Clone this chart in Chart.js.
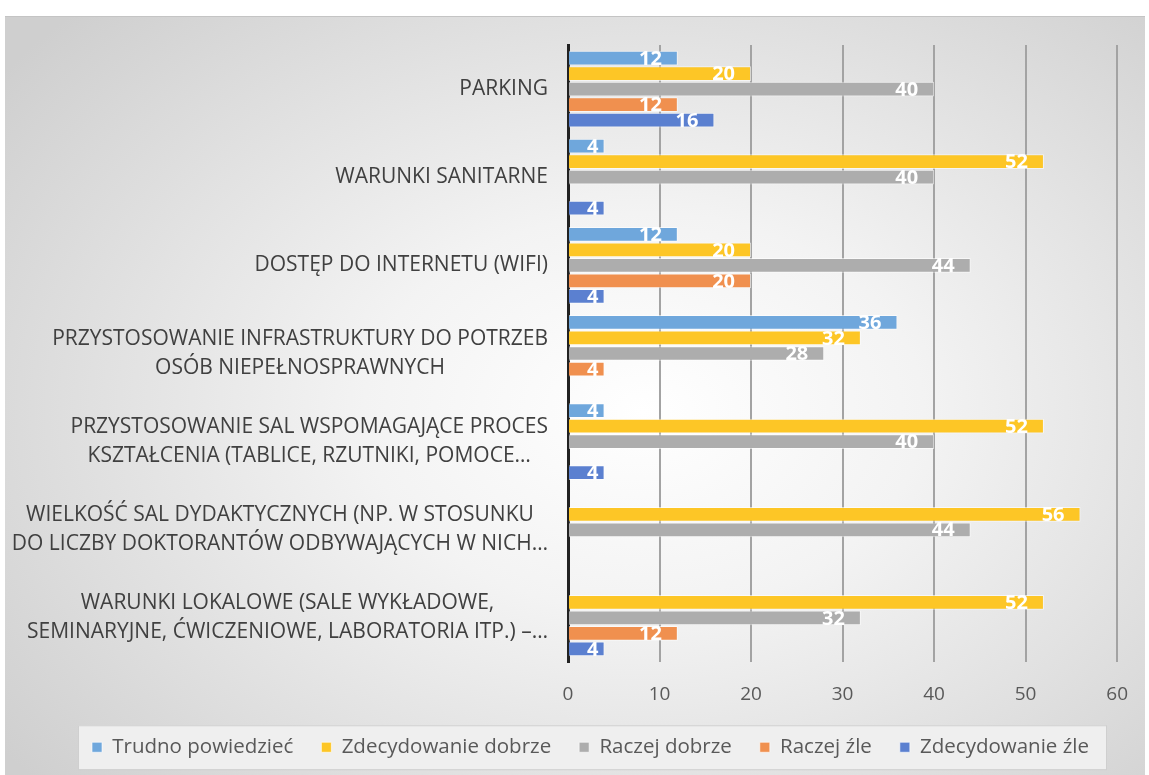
<!DOCTYPE html>
<html><head><meta charset="utf-8">
<script src="https://cdn.jsdelivr.net/npm/chart.js@4/dist/chart.umd.min.js"></script>
<style>
html,body{margin:0;padding:0;background:#fff;}
#wrap{position:relative;width:1149px;height:775px;overflow:hidden;}
#bg{position:absolute;left:5px;top:16px;width:1140px;height:759px;
 background:radial-gradient(ellipse 70% 75% at 56% 52%, #ffffff 0%, #f3f3f3 35%, #cfcfcf 100%);
 border-top:1px solid #c4c4c4;}
canvas{position:absolute;left:0;top:0;}
</style></head>
<body>
<div id="wrap"><div id="bg"></div><canvas id="c" width="1149" height="775"></canvas></div>
<script>
const categories = [
  ['PARKING'],
  ['WARUNKI SANITARNE'],
  ['DOSTĘP DO INTERNETU (WIFI)'],
  ['PRZYSTOSOWANIE INFRASTRUKTURY DO POTRZEB', 'OSÓB NIEPEŁNOSPRAWNYCH'],
  ['PRZYSTOSOWANIE SAL WSPOMAGAJĄCE PROCES', 'KSZTAŁCENIA (TABLICE, RZUTNIKI, POMOCE…'],
  ['WIELKOŚĆ SAL DYDAKTYCZNYCH (NP. W STOSUNKU', 'DO LICZBY DOKTORANTÓW ODBYWAJĄCYCH W NICH…'],
  ['WARUNKI LOKALOWE (SALE WYKŁADOWE,', 'SEMINARYJNE, ĆWICZENIOWE, LABORATORIA ITP.) –…']
];
const seriesNames = ['Trudno powiedzieć', 'Zdecydowanie dobrze', 'Raczej dobrze', 'Raczej źle', 'Zdecydowanie źle'];
const trudnoPowiedziec   = [12, 4, 12, 36, 4, null, null];
const zdecydowanieDobrze = [20, 52, 20, 32, 52, 56, 52];
const raczejDobrze       = [40, 40, 44, 28, 40, 44, 32];
const raczejZle          = [12, null, 20, 4, null, null, 12];
const zdecydowanieZle    = [16, 4, 4, null, 4, null, 4];
const xTickValues = [0, 10, 20, 30, 40, 50, 60];

const colors = ['#6fa7dc', '#fdc626', '#adadad', '#f0904f', '#5b80d0'];
const seriesData = [trudnoPowiedziec, zdecydowanieDobrze, raczejDobrze, raczejZle, zdecydowanieZle];

const FONT = '"Open Sans", "DejaVu Sans", sans-serif';

const customDraw = {
  id: 'customDraw',
  beforeLayout(chart) {
    const lg = chart.legend;
    if (lg && !lg._fixedH) {
      const f = lg.fit.bind(lg);
      lg.fit = function () { f(); this.height = 66; };
      lg._fixedH = true;
    }
  },
  afterLayout(chart) {
    const lg = chart.legend;
    if (lg) { lg.left += 28; lg.right += 28; }
  },
  beforeDraw(chart) {
    const ctx = chart.ctx;
    const lg = chart.legend;
    if (lg && lg.legendHitBoxes && lg.legendHitBoxes.length) {
      const hb = lg.legendHitBoxes;
      const l = Math.min(...hb.map(h => h.left)) - 14;
      const r = Math.max(...hb.map(h => h.left + h.width)) + 17;
      const cy = hb[0].top + hb[0].height / 2;
      ctx.save();
      ctx.fillStyle = '#efefef';
      ctx.strokeStyle = '#cfcfcf';
      ctx.lineWidth = 1;
      ctx.fillRect(l, cy - 22, r - l, 44);
      ctx.strokeRect(l + 0.5, cy - 22 + 0.5, r - l, 44);
      ctx.restore();
    }
  },
  afterDraw(chart) {
    const ctx = chart.ctx;
    const y = chart.scales.y;
    ctx.save();
    ctx.font = '21px ' + FONT;
    ctx.fillStyle = '#404040';
    ctx.textBaseline = 'middle';
    ctx.textAlign = 'center';
    const right = chart.chartArea.left - 20;
    const lh = 29;
    categories.forEach((lines, i) => {
      const cy = y.getPixelForValue(i);
      const w = Math.max(...lines.map(t => ctx.measureText(t).width));
      const cx = right - w / 2;
      lines.forEach((t, j) => ctx.fillText(t, cx, cy + (j - (lines.length - 1) / 2) * lh));
    });
    // data labels
    ctx.font = 'bold 20px ' + FONT;
    ctx.fillStyle = '#ffffff';
    ctx.textAlign = 'right';
    chart.data.datasets.forEach((ds, di) => {
      const meta = chart.getDatasetMeta(di);
      meta.data.forEach((bar, i) => {
        const v = ds.data[i];
        if (v == null) return;
        const s = String(v);
        const w = ctx.measureText(s).width;
        const rx = Math.max(bar.x - 16, bar.base + w + 18);
        ctx.fillText(s, rx, bar.y + 1);
      });
    });
    ctx.restore();
  }
};

new Chart(document.getElementById('c'), {
  type: 'bar',
  data: {
    labels: categories,
    datasets: seriesNames.map((n, i) => ({
      label: n,
      data: seriesData[i],
      backgroundColor: colors[i],
      borderColor: 'rgba(255,255,255,0.6)',
      borderWidth: 1,
      categoryPercentage: 0.88,
      barPercentage: 0.95
    }))
  },
  options: {
    indexAxis: 'y',
    responsive: false,
    animation: false,
    layout: { padding: { top: 45, right: 29, left: 5, bottom: 0 } },
    plugins: {
      tooltip: { enabled: false },
      legend: {
        position: 'bottom',
        labels: {
          boxWidth: 10, boxHeight: 10, padding: 28,
          color: '#595959',
          font: { size: 20.5, family: FONT }
        }
      }
    },
    scales: {
      y: {
        ticks: { display: false },
        grid: { display: false },
        border: { display: true, color: '#222222', width: 3 },
        afterFit(scale) { scale.width = 563; }
      },
      x: {
        min: 0, max: 60,
        afterBuildTicks(scale) { scale.ticks = xTickValues.map(v => ({ value: v })); },
        ticks: { padding: 21, color: '#595959', font: { size: 19, family: FONT } },
        grid: {
          drawTicks: false,
          color: ctx => ctx.tick && ctx.tick.value === 0 ? 'rgba(0,0,0,0)' : '#a3a3a3',
          lineWidth: 2
        },
        border: { display: false },
        afterFit(scale) { scale.height = 47; }
      }
    }
  },
  plugins: [customDraw]
});
</script>
</body></html>
